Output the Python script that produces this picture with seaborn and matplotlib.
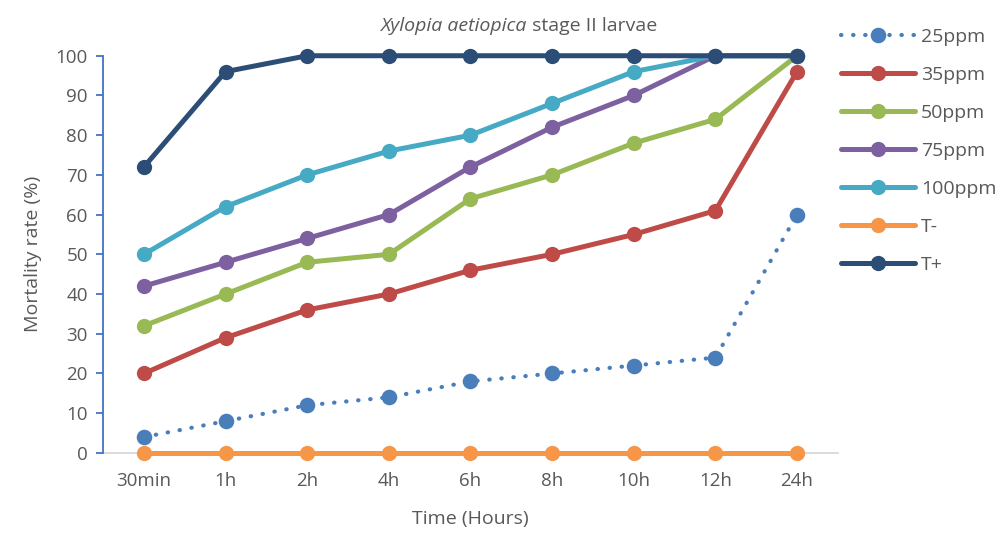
import matplotlib
matplotlib.use("Agg")
import matplotlib.pyplot as plt
import seaborn as sns
import pandas as pd

times = ["30min", "1h", "2h", "4h", "6h", "8h", "10h", "12h", "24h"]
series_names = ["25ppm", "35ppm", "50ppm", "75ppm", "100ppm", "T-", "T+"]
v25 = [4, 8, 12, 14, 18, 20, 22, 24, 60]
v35 = [20, 29, 36, 40, 46, 50, 55, 61, 96]
v50 = [32, 40, 48, 50, 64, 70, 78, 84, 100]
v75 = [42, 48, 54, 60, 72, 82, 90, 100, 100]
v100 = [50, 62, 70, 76, 80, 88, 96, 100, 100]
vTneg = [0, 0, 0, 0, 0, 0, 0, 0, 0]
vTpos = [72, 96, 100, 100, 100, 100, 100, 100, 100]
colors = ["#4A7EBB", "#BE4B48", "#98B954", "#7D60A0", "#46AAC5", "#F79646", "#2C4D75"]

values = [v25, v35, v50, v75, v100, vTneg, vTpos]

sns.set_theme(style="white")
plt.rcParams["font.family"] = ["Open Sans", "DejaVu Sans"]

fig = plt.figure(figsize=(10.01, 5.36), dpi=100)
ax = fig.add_axes([0.103, 0.155, 0.734, 0.741])

text_color = "#595959"
for name, vals, col in zip(series_names, values, colors):
    df = pd.DataFrame({"Time": times, "Rate": vals})
    if name == "25ppm":
        sns.lineplot(data=df, x="Time", y="Rate", ax=ax, color=col, linewidth=3.0,
                     linestyle=(0, (0.1, 2.8)), dash_capstyle="round",
                     marker="o", markersize=10, markeredgewidth=1.2,
                     markeredgecolor=col, label=name, sort=False, clip_on=False)
    else:
        sns.lineplot(data=df, x="Time", y="Rate", ax=ax, color=col, linewidth=3.6,
                     marker="o", markersize=11, markeredgewidth=0,
                     label=name, sort=False, solid_capstyle="round", clip_on=False)

ax.set_xlim(-0.5, len(times) - 0.5)
ax.set_ylim(0, 100)
ax.set_yticks(range(0, 101, 10))
for s in ["top", "right"]:
    ax.spines[s].set_visible(False)
ax.spines["left"].set_color("#4472C4")
ax.spines["left"].set_linewidth(1.3)
ax.spines["bottom"].set_color("#D9D9D9")
ax.spines["bottom"].set_linewidth(1.3)
ax.spines["bottom"].set_zorder(0)
ax.tick_params(axis="y", direction="out", length=5, width=1.3, color="#4472C4",
               labelsize=13.5, labelcolor=text_color, pad=6, left=True)
ax.tick_params(axis="x", length=0, labelsize=13.5, labelcolor=text_color, pad=14)
ax.set_xlabel("Time (Hours)", fontsize=14, color=text_color, labelpad=14)
ax.set_ylabel("Mortality rate (%)", fontsize=14, color=text_color, labelpad=10)
fig.text(0.526, 0.952, "Xylopia aetiopica", style="italic", fontsize=14, color=text_color,
         ha="right", va="center")
fig.text(0.526, 0.952, " stage II larvae", fontsize=14, color=text_color,
         ha="left", va="center")

leg = ax.legend(loc="upper left", bbox_to_anchor=(0.994, 1.09), frameon=False,
                fontsize=14, handlelength=3.8, handletextpad=0.3, labelspacing=1.03,
                labelcolor=text_color, borderaxespad=0)

fig.savefig("out.png", dpi=100)
